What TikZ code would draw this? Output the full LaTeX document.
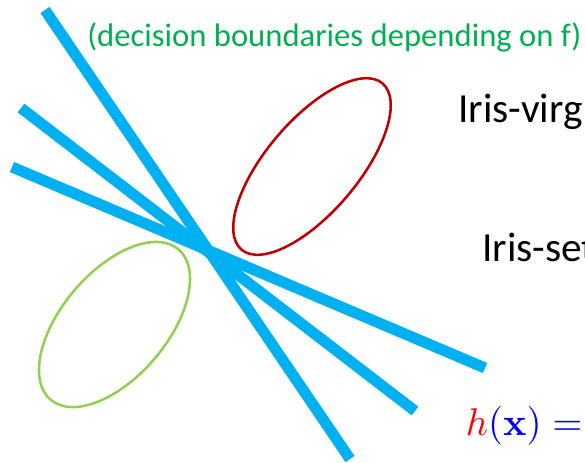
\documentclass[tikz,border=0pt]{standalone}
\usepackage[no-math]{fontspec}
\setmainfont{Carlito}
\usepackage{amsmath}

\definecolor{bndcyan}{RGB}{0,176,240}
\definecolor{virgred}{RGB}{192,0,0}
\definecolor{setgreen}{RGB}{146,208,80}
\definecolor{notegreen}{RGB}{0,176,80}

\begin{document}
\begin{tikzpicture}[
  x=0.75pt,
  y=-0.75pt,
  line cap=butt,
  boundary/.style={line width=8.25pt,draw=bndcyan},
  region/.style={line width=1.9pt},
  label/.style={anchor=base west,inner sep=0pt,font=\fontsize{31}{37}\selectfont},
  note/.style={anchor=base west,inner sep=0pt,text=notegreen,font=\fontsize{24.5}{30}\selectfont}
]
\useasboundingbox (0,0) rectangle (585,463);

% ------------------------------------------------------------------
% Decision boundaries
% ------------------------------------------------------------------
\coordinate (L1a) at (45,10);
\coordinate (L1b) at (350,459);
\coordinate (L2a) at (21,108);
\coordinate (L2b) at (415,411);
\coordinate (L3a) at (12,167);
\coordinate (L3b) at (485,368);

\draw[boundary] (L1a) -- (L1b);
\draw[boundary] (L2a) -- (L2b);
\draw[boundary] (L3a) -- (L3b);

% ------------------------------------------------------------------
% Class regions
% ------------------------------------------------------------------
\coordinate (virgc) at (312,166.5);
\coordinate (setc) at (114.5,324.5);

\draw[region,draw=virgred,rotate around={49.7:(virgc)}] (virgc) ellipse (109 and 46);
\draw[region,draw=setgreen,rotate around={49.6:(setc)}] (setc) ellipse (98.7 and 52.7);

% ------------------------------------------------------------------
% Labels
% ------------------------------------------------------------------
\node[note] (dep) at (87,47) {(decision boundaries depending on f)};
\node[label] (virg) at (458,123) {Iris-virg};
\node[label] (set) at (482,262) {Iris-set};
\node[anchor=base west,inner sep=0pt,scale=2.9] (hx) at (465,435)
  {$\color{red}h\color{blue}(\mathbf{x}) =$};

\end{tikzpicture}
\end{document}
